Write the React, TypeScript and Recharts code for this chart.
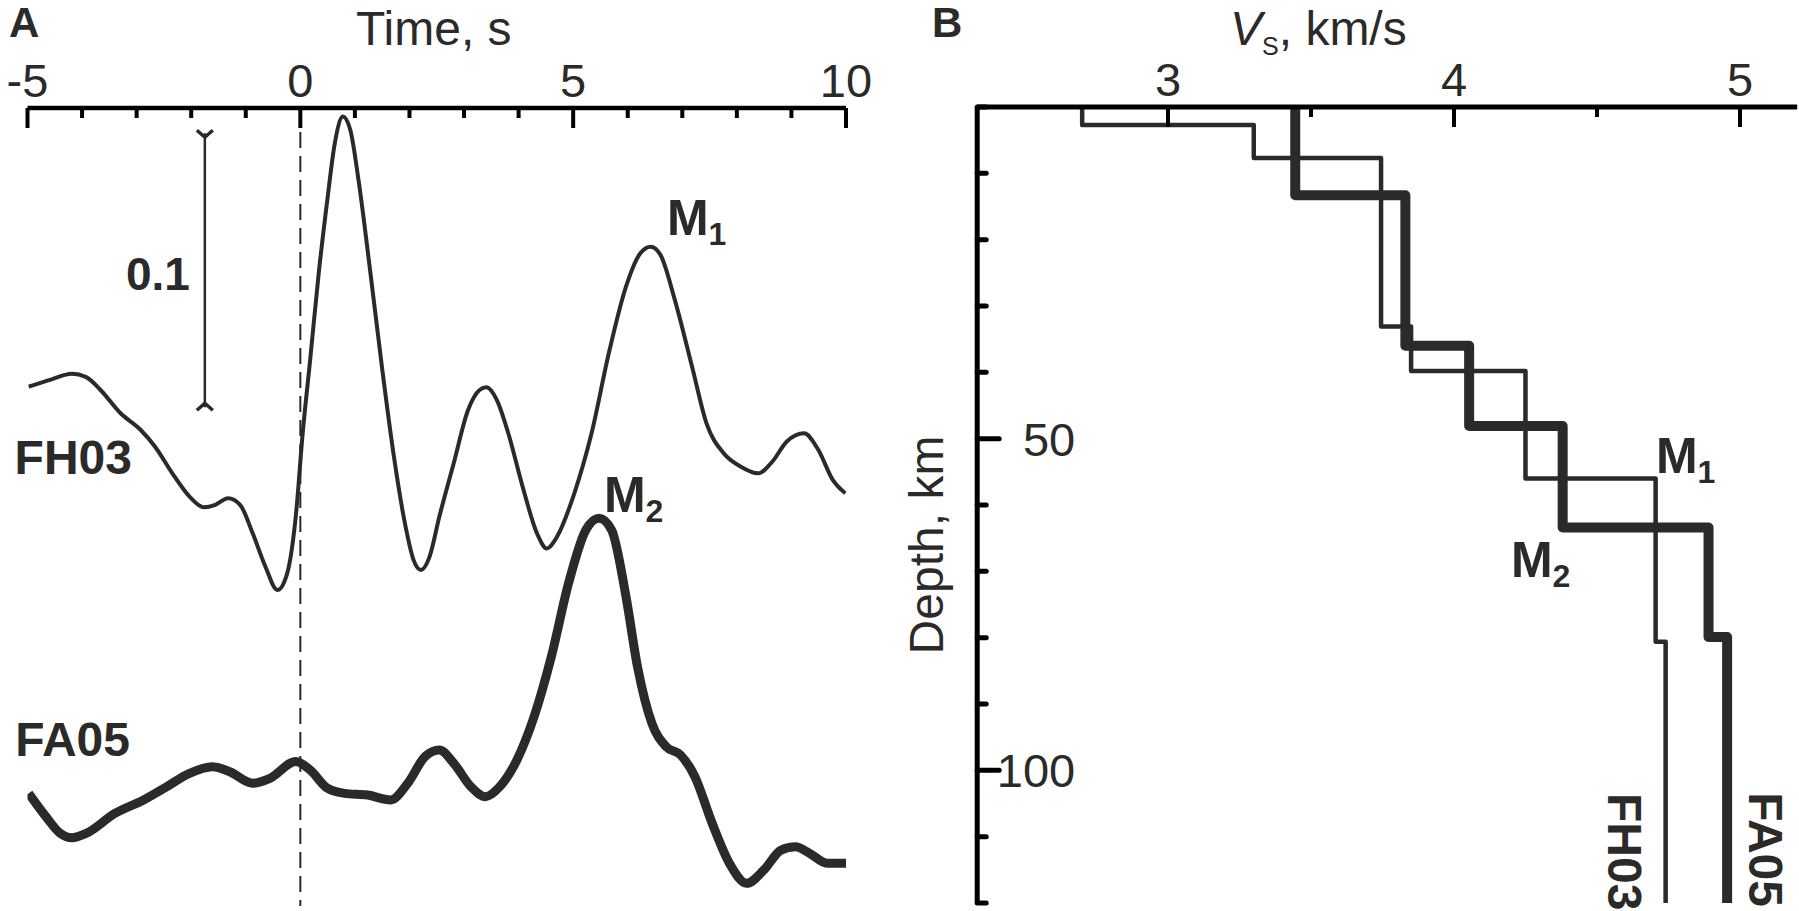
import React from 'react';
import { LineChart, Line, XAxis, YAxis, ReferenceLine, ReferenceDot } from 'recharts';

const FONT = '"Liberation Sans", Arial, Helvetica, sans-serif';
const INK = '#2b2a29';
const AXIS = '#000000';

// ---------- Panel A: waveforms ----------
const timeTicks = [-5, -4, -3, -2, -1, 0, 1, 2, 3, 4, 5, 6, 7, 8, 9, 10];
const timeLabels = [-5, 0, 5, 10];
const FH03_OFFSET = 0.16;
const FA05_OFFSET = 0.04;
const SCALE_BAR_TIME = -1.75;
const SCALE_BAR_BASE = 0.182;
const SCALE_BAR_SIZE = 0.1;

const fh03Time = [
  -4.978, -4.557, -4.188, -3.925, -3.662, -3.294, -2.925, -2.662, -2.346, -2.031,
  -1.768, -1.557, -1.326, -1.104, -0.873, -0.641, -0.42, -0.241, -0.084, 0.043,
  0.18, 0.337, 0.495, 0.632, 0.78, 0.916, 1.074, 1.285, 1.495, 1.706,
  1.916, 2.074, 2.211, 2.369, 2.548, 2.811, 3.074, 3.285, 3.411, 3.6,
  3.811, 4.074, 4.337, 4.516, 4.705, 5.021, 5.337, 5.653, 5.968, 6.231,
  6.421, 6.6, 6.863, 7.179, 7.442, 7.758, 8.073, 8.389, 8.652, 8.915,
  9.231, 9.494, 9.757, 9.989,
];
const fh03Amp = [
  0.0295, 0.0322, 0.0342, 0.033, 0.0283, 0.0198, 0.0137, 0.0076, -0.0021, -0.0106,
  -0.0145, -0.0136, -0.0112, -0.0136, -0.024, -0.0361, -0.0447, -0.0386, -0.0179, 0.0125,
  0.0393, 0.0709, 0.0977, 0.1184, 0.1281, 0.1232, 0.1038, 0.0709, 0.0368, 0.0052,
  -0.0203, -0.0337, -0.0374, -0.0325, -0.0179, 0.0016, 0.021, 0.0283, 0.0293, 0.0247,
  0.0125, -0.007, -0.024, -0.0295, -0.0252, -0.0094, 0.0125, 0.0417, 0.066, 0.0782,
  0.0806, 0.0776, 0.0612, 0.0368, 0.0162, 0.0052, 0.0003, -0.0021, 0.0022, 0.0095,
  0.0125, 0.0064, -0.0045, -0.0094,
];

const fa05Time = [
  -4.978, -4.662, -4.399, -4.188, -3.925, -3.399, -2.873, -2.452, -2.031, -1.61,
  -1.294, -0.873, -0.557, -0.084, 0.18, 0.495, 0.811, 1.232, 1.653, 1.969,
  2.285, 2.548, 2.811, 3.127, 3.39, 3.653, 3.969, 4.284, 4.6, 4.916,
  5.232, 5.474, 5.705, 5.968, 6.179, 6.442, 6.705, 6.968, 7.231, 7.547,
  7.863, 8.179, 8.494, 8.81, 9.073, 9.336, 9.652, 10.0,
];
const fa05Amp = [
  0.0011, -0.0074, -0.0135, -0.0151, -0.0135, -0.0062, -0.0013, 0.0035, 0.0084, 0.0108,
  0.009, 0.0048, 0.0066, 0.0127, 0.0096, 0.003, 0.0011, 0.0005, -0.0013, 0.0048,
  0.0145, 0.0169, 0.0121, 0.0035, -0.0001, 0.0035, 0.0133, 0.0291, 0.051, 0.0778,
  0.0972, 0.1015, 0.0972, 0.0729, 0.0473, 0.0267, 0.0181, 0.0151, 0.0072, -0.0098,
  -0.0244, -0.0317, -0.0269, -0.0196, -0.0184, -0.0208, -0.0244, -0.0244,
];

// ---------- Panel B: velocity profiles ----------
const velTicks = [3, 3.5, 4, 4.5, 5];
const velLabels = [3, 4, 5];
const depthTicks = [0, 10, 20, 30, 40, 50, 60, 70, 80, 90, 100, 110, 120];
const depthLabels = [50, 100];
const MAX_DEPTH = 120;

const fh03LayerTop = [0, 2.7, 7.7, 33.1, 39.8, 56.0, 80.6];
const fh03LayerVs = [2.7, 3.3, 3.745, 3.85, 4.25, 4.705, 4.74];
const fa05LayerTop = [0, 13.3, 36.0, 48.1, 63.4, 79.9];
const fa05LayerVs = [3.445, 3.83, 4.053, 4.38, 4.89, 4.955];

// ---------- tables built from the arrays ----------
const fh03Data = fh03Time.map((t, i) => ({ t, y: FH03_OFFSET + fh03Amp[i] }));
const fa05Data = fa05Time.map((t, i) => ({ t, y: FA05_OFFSET + fa05Amp[i] }));

const profile = (tops: number[], vs: number[]) => {
  const pts: { v: number; d: number }[] = [];
  tops.forEach((top, i) => {
    const bottom = i + 1 < tops.length ? tops[i + 1] : MAX_DEPTH;
    pts.push({ v: vs[i], d: top });
    pts.push({ v: vs[i], d: bottom });
  });
  return pts;
};
const fh03Profile = profile(fh03LayerTop, fh03LayerVs);
const fa05Profile = profile(fa05LayerTop, fa05LayerVs);

// ---------- custom renderers ----------
const TopTick = (labels: number[], size: number) => (props: any) => {
  const { x, y, payload } = props;
  const v = payload.value;
  const major = labels.includes(v);
  return (
    <g>
      <line x1={x} y1={y} x2={x} y2={y + (major ? 20 : 10)} stroke={AXIS} strokeWidth={4} />
      {major && (
        <text x={x} y={y - 11} textAnchor="middle" fontSize={size} fill={INK} fontFamily={FONT}>
          {String(v)}
        </text>
      )}
    </g>
  );
};

const DepthTick = (props: any) => {
  const { x, y, payload } = props;
  const v = payload.value;
  const major = depthLabels.includes(v);
  return (
    <g>
      <line x1={x} y1={y} x2={x + (major ? 22 : 9)} y2={y} stroke={AXIS} strokeWidth={5} strokeLinecap="round" />
      {major && (
        <text x={x + 98} y={y + 17} textAnchor="end" fontSize={47} fill={INK} fontFamily={FONT}>
          {String(v)}
        </text>
      )}
    </g>
  );
};

const ScaleBarShape = (props: any) => {
  const { x1, y1, y2 } = props;
  const top = Math.min(y1, y2);
  const bot = Math.max(y1, y2);
  const x = x1;
  return (
    <g>
      <line x1={x} y1={top} x2={x} y2={bot} stroke={INK} strokeWidth={2.5} />
      <path d={`M${x - 8},${top - 3} L${x},${top + 4} L${x + 8},${top - 3}`} fill="none" stroke={INK} strokeWidth={3.5} />
      <path d={`M${x - 8},${bot + 3} L${x},${bot - 4} L${x + 8},${bot + 3}`} fill="none" stroke={INK} strokeWidth={3.5} />
      <text x={x - 15} y={(top + bot) / 2 + 20} textAnchor="end" fontWeight="bold" fontSize={46} fill={INK} fontFamily={FONT}>
        {String(SCALE_BAR_SIZE)}
      </text>
    </g>
  );
};

const TextLabel = (props: any) => {
  const { viewBox, text, sub, anchor = 'start', size = 48, subSize = 32, rotate = 0 } = props;
  const x = viewBox ? viewBox.x : props.x;
  const y = viewBox ? viewBox.y : props.y;
  return (
    <text
      x={x}
      y={y}
      textAnchor={anchor}
      fontWeight="bold"
      fontSize={size}
      fill={INK}
      fontFamily={FONT}
      transform={rotate ? `rotate(${rotate} ${x} ${y})` : undefined}
    >
      {text}
      {sub && (
        <tspan fontSize={subSize} dy={10}>
          {sub}
        </tspan>
      )}
    </text>
  );
};

const Anchor = (x: number, y: number, label: React.ReactElement, key: string) => (
  <ReferenceDot key={key} x={x} y={y} r={0} fill="none" stroke="none" ifOverflow="visible" label={label} />
);

export default function App() {
  return (
    <div style={{ position: 'absolute', left: 0, top: 0, width: 1799, height: 911, background: '#fff' }}>
      {/* Panel A */}
      <div style={{ position: 'absolute', left: 0, top: 0 }}>
        <LineChart width={880} height={911} margin={{ top: 48, right: 34, bottom: 5, left: 27.5 }}>
          <XAxis
            type="number"
            dataKey="t"
            orientation="top"
            domain={[-5, 10]}
            ticks={timeTicks}
            interval={0}
            height={60}
            tickSize={0}
            tickMargin={0}
            tickLine={false}
            axisLine={{ stroke: AXIS, strokeWidth: 4.5 }}
            tick={TopTick(timeLabels, 47)}
            allowDataOverflow
          />
          <YAxis type="number" domain={[0, 0.2912]} hide allowDataOverflow />
          <ReferenceLine x={0} stroke={INK} strokeWidth={2} strokeDasharray="16 8" />
          <ReferenceLine
            segment={[
              { x: SCALE_BAR_TIME, y: SCALE_BAR_BASE },
              { x: SCALE_BAR_TIME, y: SCALE_BAR_BASE + SCALE_BAR_SIZE },
            ]}
            shape={ScaleBarShape}
          />
          <Line
            data={fh03Data}
            dataKey="y"
            type="monotone"
            stroke={INK}
            strokeWidth={4}
            dot={false}
            isAnimationActive={false}
          />
          <Line
            data={fa05Data}
            dataKey="y"
            type="monotone"
            stroke={INK}
            strokeWidth={9}
            strokeLinejoin="round"
            dot={false}
            isAnimationActive={false}
          />
          {Anchor(-3.085, 0.1577, <TextLabel text="FH03" anchor="end" />, 'a-fh03')}
          {Anchor(-3.122, 0.0547, <TextLabel text="FA05" anchor="end" />, 'a-fa05')}
          {Anchor(6.719, 0.2449, <TextLabel text="M" sub="1" size={50} />, 'a-m1')}
          {Anchor(5.564, 0.1438, <TextLabel text="M" sub="2" size={50} />, 'a-m2')}
        </LineChart>
      </div>

      {/* Panel B */}
      <div style={{ position: 'absolute', left: 880, top: 0 }}>
        <LineChart width={919} height={911} margin={{ top: 47, right: 1.8, bottom: 8, left: 37.2 }}>
          <XAxis
            type="number"
            dataKey="v"
            orientation="top"
            domain={[2.333, 5.2]}
            ticks={velTicks}
            interval={0}
            height={60}
            tickSize={0}
            tickMargin={0}
            tickLine={false}
            axisLine={{ stroke: AXIS, strokeWidth: 5 }}
            tick={TopTick(velLabels, 47)}
            allowDataOverflow
          />
          <YAxis
            type="number"
            domain={[0, MAX_DEPTH]}
            reversed
            ticks={depthTicks}
            interval={0}
            width={60}
            tickSize={0}
            tickMargin={0}
            tickLine={false}
            axisLine={{ stroke: AXIS, strokeWidth: 5 }}
            tick={DepthTick}
            allowDataOverflow
          />
          <Line
            data={fh03Profile}
            dataKey="d"
            type="linear"
            stroke={INK}
            strokeWidth={4.5}
            strokeLinejoin="round"
            strokeLinecap="round"
            dot={false}
            isAnimationActive={false}
          />
          <Line
            data={fa05Profile}
            dataKey="d"
            type="linear"
            stroke={INK}
            strokeWidth={10}
            strokeLinejoin="round"
            strokeLinecap="round"
            dot={false}
            isAnimationActive={false}
          />
          {Anchor(4.706, 55.18, <TextLabel text="M" sub="1" size={50} />, 'b-m1')}
          {Anchor(4.199, 70.86, <TextLabel text="M" sub="2" size={50} />, 'b-m2')}
          {Anchor(4.538, 103.42, <TextLabel text="FH03" rotate={90} />, 'b-fh03')}
          {Anchor(5.031, 103.3, <TextLabel text="FA05" rotate={90} />, 'b-fa05')}
        </LineChart>
      </div>

      {/* Titles */}
      <svg width={1799} height={911} style={{ position: 'absolute', left: 0, top: 0, pointerEvents: 'none' }}>
        <text x={9} y={37} fontWeight="bold" fontSize={42} fill={INK} fontFamily={FONT}>A</text>
        <text x={356} y={45} fontSize={48} fill={INK} fontFamily={FONT}>Time, s</text>
        <text x={932} y={37} fontWeight="bold" fontSize={42} fill={INK} fontFamily={FONT}>B</text>
        <text x={1230} y={45} fontSize={48} fill={INK} fontFamily={FONT}>
          <tspan fontStyle="italic">V</tspan>
          <tspan fontSize={25} dy={10}>S</tspan>
          <tspan dy={-10}>, km/s</tspan>
        </text>
        <text
          x={943}
          y={545}
          textAnchor="middle"
          fontSize={48}
          fill={INK}
          fontFamily={FONT}
          transform="rotate(-90 943 545)"
        >
          Depth, km
        </text>
      </svg>
    </div>
  );
}
